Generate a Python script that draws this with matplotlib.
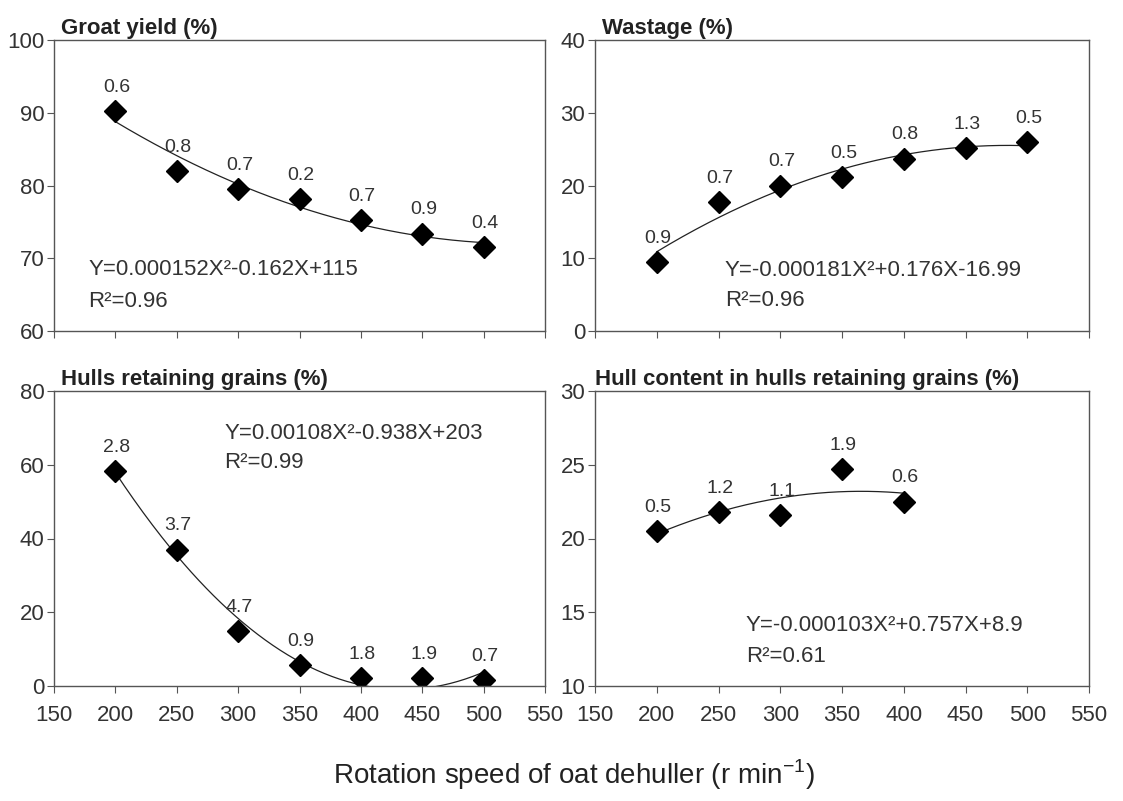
import numpy as np
import matplotlib
matplotlib.use("Agg")
import matplotlib.pyplot as plt

plt.rcParams['font.family'] = ['Liberation Sans', 'DejaVu Sans']

# rotation speed (r/min)
speed = [200, 250, 300, 350, 400, 450, 500]
speed_hc = [200, 250, 300, 350, 400]

groat = [90.2, 82.0, 79.5, 78.1, 75.2, 73.4, 71.5]
groat_se = ["0.6", "0.8", "0.7", "0.2", "0.7", "0.9", "0.4"]

wastage = [9.5, 17.7, 20.0, 21.1, 23.7, 25.1, 26.0]
wastage_se = ["0.9", "0.7", "0.7", "0.5", "0.8", "1.3", "0.5"]

hulls = [58.3, 37.0, 14.8, 5.6, 2.2, 2.1, 1.6]
hulls_se = ["2.8", "3.7", "4.7", "0.9", "1.8", "1.9", "0.7"]

hullc = [20.5, 21.8, 21.6, 24.7, 22.5]
hullc_se = ["0.5", "1.2", "1.1", "1.9", "0.6"]

xticks = [150, 200, 250, 300, 350, 400, 450, 500, 550]

W, H = 1123, 801
fig = plt.figure(figsize=(W / 100, H / 100), dpi=100)


def px_axes(x0, x1, y0, y1):
    return fig.add_axes([x0 / W, 1 - y1 / H, (x1 - x0) / W, (y1 - y0) / H])


def panel(ax, x, y, labels, ylim, yticks, title, eq, r2, eqpos, xlabels, tx):
    # quadratic trend line fitted to the means
    coef = np.polyfit(x, y, 2)
    xs = np.linspace(x[0], x[-1], 200)
    ax.plot(xs, np.polyval(coef, xs), color='#222222', lw=0.9)
    ax.plot(x, y, 'D', color='black', ms=11, mec='black')
    for xi, yi, t in zip(x, y, labels):
        ax.annotate(t, (xi, yi), xytext=(1, 11), textcoords='offset points',
                    ha='center', va='bottom', fontsize=14, color='#333333')
    ax.set_xlim(150, 550)
    ax.set_ylim(*ylim)
    ax.set_xticks(xticks)
    ax.set_yticks(yticks)
    if xlabels:
        ax.set_xticklabels([str(v) for v in xticks])
    else:
        ax.set_xticklabels([])
    ax.tick_params(direction='out', length=5, width=0.8, colors='#555555',
                   labelcolor='#333333', labelsize=16)
    ax.tick_params(axis='x', pad=9)
    ax.tick_params(axis='y', pad=2)
    for s in ax.spines.values():
        s.set_color('#555555')
        s.set_linewidth(1.0)
    ax.text(eqpos[0], eqpos[1], eq, fontsize=16, color='#333333', va='center', ha='left')
    ax.text(eqpos[0], eqpos[2], r2, fontsize=16, color='#333333', va='center', ha='left')
    ax.set_title(title, loc='left', fontsize=16, fontweight='bold', color='#222222', pad=4, x=tx)


ax1 = px_axes(54, 545, 40, 331)
panel(ax1, speed, groat, groat_se, (60, 100), [60, 70, 80, 90, 100],
      "Groat yield (%)", "Y=0.000152X²-0.162X+115", "R²=0.96", (178, 68.5, 64.1), False, 0.015)

ax2 = px_axes(595, 1089, 40, 331)
panel(ax2, speed, wastage, wastage_se, (0, 40), [0, 10, 20, 30, 40],
      "Wastage (%)", "Y=-0.000181X²+0.176X-16.99", "R²=0.96", (255, 8.3, 4.2), False, 0.015)

ax3 = px_axes(54, 545, 391, 686)
panel(ax3, speed, hulls, hulls_se, (0, 80), [0, 20, 40, 60, 80],
      "Hulls retaining grains (%)", "Y=0.00108X²-0.938X+203", "R²=0.99", (289, 68.4, 60.5), True, 0.015)

ax4 = px_axes(595, 1089, 391, 686)
panel(ax4, speed_hc, hullc, hullc_se, (10, 30), [10, 15, 20, 25, 30],
      "Hull content in hulls retaining grains (%)", "Y=-0.000103X²+0.757X+8.9", "R²=0.61", (272, 14.1, 12.0), True, 0.0)

fig.text(574 / W, 1 - 775 / H, "Rotation speed of oat dehuller (r min$^{\\mathregular{-1}}$)",
         ha='center', va='center', fontsize=20, color='#222222')

fig.savefig("out.png", dpi=100)
